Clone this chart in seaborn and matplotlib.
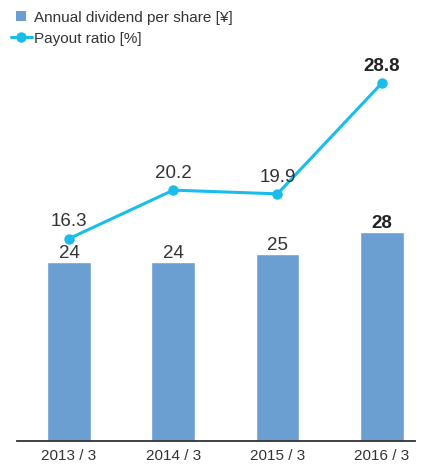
import matplotlib
matplotlib.use("Agg")
import matplotlib.pyplot as plt
import seaborn as sns
import pandas as pd
from matplotlib.lines import Line2D

categories = ["2013 / 3", "2014 / 3", "2015 / 3", "2016 / 3"]
dividend = [24, 24, 25, 28]
payout = [16.3, 20.2, 19.9, 28.8]
dividend_labels = ["24", "24", "25", "28"]
payout_labels = ["16.3", "20.2", "19.9", "28.8"]

sns.set_style("white")
plt.rcParams['font.family'] = ['Liberation Sans', 'DejaVu Sans']

bar_color = "#6b9fd1"
line_color = "#19bdec"
text_color = "#333333"

df = pd.DataFrame({"cat": categories, "div": dividend, "pay": payout, "idx": range(len(categories))})

fig = plt.figure(figsize=(4.22, 4.65), dpi=100)
ax = fig.add_axes([17/422, 24/465, (415-17)/422, 421/465])
sns.barplot(data=df, x="cat", y="div", color=bar_color, width=0.42, saturation=1, ax=ax)
ax.set_xlim(-0.5, 3.32)
ax.set_ylim(0, 56.4)
ax.set_xlabel("")
ax.set_ylabel("")
ax.set_yticks([])
for s in ["top", "right", "left"]:
    ax.spines[s].set_visible(False)
ax.spines["bottom"].set_color("#333333")
ax.spines["bottom"].set_linewidth(1.3)
ax.tick_params(axis="x", length=0, pad=6, labelsize=11, colors=text_color)

for i, (v, lab) in enumerate(zip(dividend, dividend_labels)):
    ax.annotate(lab, (i, v), xytext=(0, 0), textcoords="offset points", ha="center", va="bottom",
                fontsize=13.5, color="#222222" if i == 3 else text_color,
                fontweight="bold" if i == 3 else "normal")

ax2 = ax.twinx()
sns.lineplot(data=df, x="idx", y="pay", color=line_color, linewidth=2.2, marker="o",
             markersize=7.5, markeredgewidth=0, ax=ax2)
ax2.set_ylim(0, 33.9)
ax2.set_xlim(-0.5, 3.32)
ax2.set_yticks([])
ax2.set_ylabel("")
ax2.set_xlabel("")
for s in ["top", "right", "left", "bottom"]:
    ax2.spines[s].set_visible(False)

for i, (v, lab) in enumerate(zip(payout, payout_labels)):
    ax2.annotate(lab, (i, v), xytext=(0, 6), textcoords="offset points", ha="center", va="bottom",
                 fontsize=13.5, color="#222222" if i == 3 else text_color,
                 fontweight="bold" if i == 3 else "normal")

handles = [
    Line2D([0], [0], color="none", marker="s", markersize=7.5, markerfacecolor=bar_color,
           markeredgewidth=0),
    Line2D([0], [0], color=line_color, linewidth=2.2, marker="o", markersize=7.5, markeredgewidth=0),
]
fig.legend(handles, ["Annual dividend per share [¥]", "Payout ratio [%]"],
           loc="upper left", bbox_to_anchor=(0.0, 1.0), frameon=False, fontsize=11,
           handlelength=1.4, handletextpad=0.1, labelspacing=0.45, borderaxespad=0.5,
           borderpad=0.2, labelcolor=text_color)

fig.savefig("out.png", dpi=100)
